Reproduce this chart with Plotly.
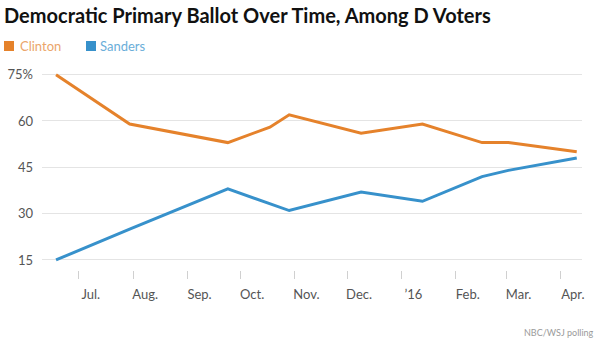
import plotly.graph_objects as go

poll_dates = ["2015-06-18", "2015-07-30", "2015-09-24", "2015-10-18", "2015-10-29",
              "2015-12-09", "2016-01-13", "2016-02-16", "2016-03-02", "2016-04-10"]
clinton = [75, 59, 53, 58, 62, 56, 59, 53, 53, 50]
sanders = [15, 25, 38, None, 31, 37, 34, 42, 44, 48]

month_ticks = ["2015-07-01", "2015-08-01", "2015-09-01", "2015-10-01", "2015-11-01",
               "2015-12-01", "2016-01-01", "2016-02-01", "2016-03-01", "2016-04-01"]
month_labels = ["Jul.", "Aug.", "Sep.", "Oct.", "Nov.", "Dec.", "\u201916", "Feb.", "Mar.", "Apr."]
y_ticks = [15, 30, 45, 60, 75]
y_labels = ["15", "30", "45", "60", "75%"]

ORANGE = "#E5822B"
BLUE = "#3791CB"
FONT = "Lato"

fig = go.Figure()
fig.add_trace(go.Scatter(x=poll_dates, y=clinton, mode="lines", name="Clinton",
                         line=dict(color=ORANGE, width=3), connectgaps=True))
fig.add_trace(go.Scatter(x=poll_dates, y=sanders, mode="lines", name="Sanders",
                         line=dict(color=BLUE, width=3), connectgaps=True))

L, R, T, B = 42, 18, 70, 68
W, H = 600, 338
pw = W - L - R
ph = H - T - B

def px2paper_x(px):
    return (px - L) / pw

def py2paper_y(py):
    return (H - B - py) / ph

shapes = []
for x0, col in [(4, ORANGE), (86, BLUE)]:
    shapes.append(dict(type="rect", xref="paper", yref="paper",
                       x0=px2paper_x(x0), x1=px2paper_x(x0 + 10),
                       y0=py2paper_y(51), y1=py2paper_y(41),
                       fillcolor=col, line=dict(width=0), layer="above"))

annotations = [
    dict(text="<b>Democratic Primary Ballot Over Time, Among D Voters</b>",
         xref="paper", yref="paper", x=px2paper_x(2), y=py2paper_y(15),
         xanchor="left", yanchor="middle", showarrow=False,
         font=dict(family=FONT, size=20, color="#111111")),
    dict(text="Clinton", xref="paper", yref="paper", x=px2paper_x(18), y=py2paper_y(46),
         xanchor="left", yanchor="middle", showarrow=False,
         font=dict(family=FONT, size=13, color="#EBA56A")),
    dict(text="Sanders", xref="paper", yref="paper", x=px2paper_x(98), y=py2paper_y(46),
         xanchor="left", yanchor="middle", showarrow=False,
         font=dict(family=FONT, size=13, color="#6AAED9")),
    dict(text="NBC/WSJ polling", xref="paper", yref="paper", x=px2paper_x(596), y=py2paper_y(332),
         xanchor="right", yanchor="middle", showarrow=False,
         font=dict(family=FONT, size=9, color="#9a9a9a")),
]

fig.update_layout(
    template="none",
    width=W, height=H, margin=dict(l=L, r=R, t=T, b=B, pad=0),
    paper_bgcolor="white", plot_bgcolor="white", showlegend=False,
    shapes=shapes, annotations=annotations,
    xaxis=dict(type="date", range=["2015-06-10", "2016-04-13"], automargin=False,
               tickmode="array", tickvals=month_ticks, ticktext=month_labels,
               ticks="outside", ticklen=8, tickwidth=1, tickcolor="#d0d0d0",
               ticklabelshift=12, ticklabelstandoff=4,
               showgrid=False, showline=False, zeroline=False,
               tickfont=dict(family=FONT, size=13, color="#555555")),
    yaxis=dict(range=[11.75, 76.5], automargin=False,
               tickmode="array", tickvals=y_ticks, ticktext=y_labels,
               showgrid=True, gridcolor="#e4e4e4", gridwidth=1,
               showline=False, zeroline=False, ticks="", ticklabelstandoff=8,
               tickfont=dict(family=FONT, size=13, color="#555555")),
)

fig.write_html("out.html")
